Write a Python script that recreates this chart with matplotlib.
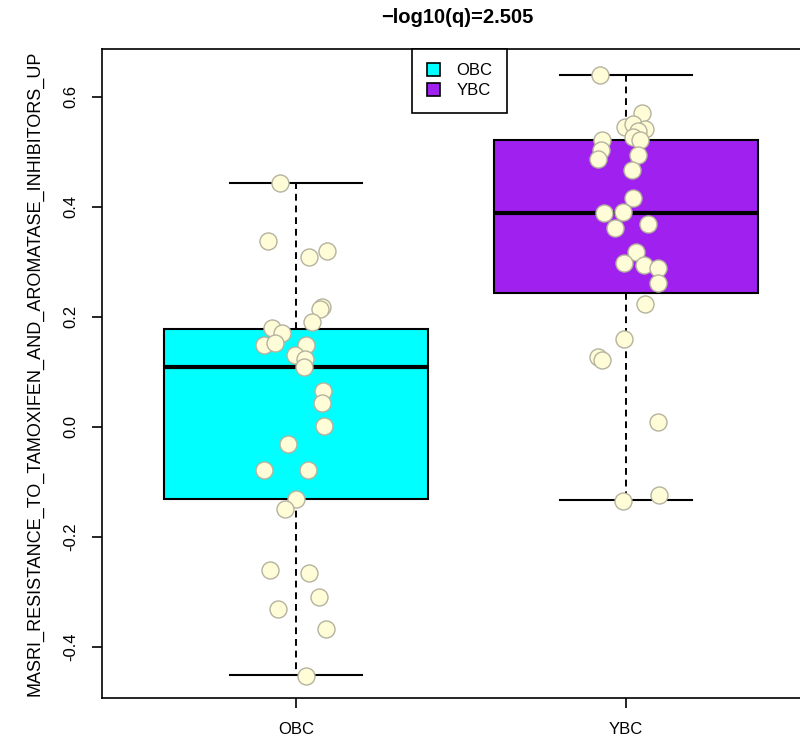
import numpy as np
import matplotlib
matplotlib.use("Agg")
from matplotlib import pyplot as plt
from matplotlib.patches import Patch

plt.rcParams['font.family'] = ['Liberation Sans', 'DejaVu Sans']

groups = ['OBC', 'YBC']
colors = ['#00FFFF', '#A020F0']
title = '\u2212log10(q)=2.505'
ylabel = 'MASRI_RESISTANCE_TO_TAMOXIFEN_AND_AROMATASE_INHIBITORS_UP'

# box statistics
med = [0.109, 0.389]
q1 = [-0.131, 0.244]
q3 = [0.178, 0.522]
whislo = [-0.451, -0.133]
whishi = [0.444, 0.640]

# points (jitter offset, value)
obc_jit = [-0.048, -0.085, 0.039, 0.094, 0.079, 0.073, 0.048, -0.073, -0.042, -0.097,
           -0.064, 0.030, -0.003, 0.027, 0.024, 0.082, 0.079, 0.085, -0.024, -0.097,
           0.036, 0.000, -0.033, -0.079, 0.039, 0.070, -0.055, 0.091, 0.030]
obc_val = [0.444, 0.338, 0.309, 0.320, 0.218, 0.215, 0.191, 0.180, 0.171, 0.149,
           0.153, 0.149, 0.131, 0.124, 0.109, 0.065, 0.044, 0.002, -0.031, -0.078,
           -0.078, -0.131, -0.149, -0.260, -0.265, -0.309, -0.331, -0.367, -0.453]
ybc_jit = [-0.079, 0.048, -0.003, 0.021, 0.058, 0.036, 0.021, 0.042, -0.073, -0.076,
           -0.085, 0.036, 0.018, 0.021, -0.067, -0.009, -0.033, 0.067, 0.030, -0.006,
           0.055, 0.097, 0.097, 0.058, -0.006, -0.085, -0.073, 0.097, 0.100, -0.009]
ybc_val = [0.640, 0.571, 0.545, 0.551, 0.542, 0.538, 0.527, 0.522, 0.522, 0.504,
           0.487, 0.495, 0.467, 0.416, 0.389, 0.391, 0.362, 0.369, 0.318, 0.298,
           0.295, 0.289, 0.262, 0.224, 0.160, 0.127, 0.122, 0.009, -0.124, -0.135]

fig = plt.figure(figsize=(8, 7.41), dpi=100)
ax = fig.add_axes([0.1275, 0.058, 0.894, 0.876])

stats = []
for i, g in enumerate(groups):
    stats.append(dict(label=g, med=med[i], q1=q1[i], q3=q3[i],
                      whislo=whislo[i], whishi=whishi[i], fliers=[]))

bp = ax.bxp(stats, positions=[1, 2], widths=0.8, capwidths=0.4,
            patch_artist=True, showfliers=False,
            boxprops=dict(edgecolor='black', linewidth=1.5),
            medianprops=dict(color='black', linewidth=3),
            whiskerprops=dict(color='black', linewidth=1.4, linestyle=(0, (3.5, 2.5))),
            capprops=dict(color='black', linewidth=1.5))
for patch, c in zip(bp['boxes'], colors):
    patch.set_facecolor(c)

ax.scatter(1 + np.array(obc_jit), obc_val, s=150, facecolor='#FFFDD8',
           edgecolor='#B5B29E', linewidth=1, zorder=5)
ax.scatter(2 + np.array(ybc_jit), ybc_val, s=150, facecolor='#FFFDD8',
           edgecolor='#B5B29E', linewidth=1, zorder=5)

ax.set_xlim(0.412, 2.58)
ax.set_ylim(-0.493, 0.687)
ax.set_yticks([-0.4, -0.2, 0.0, 0.2, 0.4, 0.6])
ax.set_yticklabels(['-0.4', '-0.2', '0.0', '0.2', '0.4', '0.6'], rotation=90, va='center')
ax.set_xticks([1, 2])
ax.set_xticklabels(groups)
ax.tick_params(labelsize=12, length=7, width=1.2, pad=10)
ax.tick_params(axis='y', pad=10)
for s in ax.spines.values():
    s.set_linewidth(1.2)

ax.set_ylabel(ylabel, fontsize=13, labelpad=14)
fig.text(0.572, 0.977, title, fontsize=14.5, fontweight='bold', ha='center', va='center')

handles = [Patch(facecolor=c, edgecolor='black', linewidth=1.2) for c in colors]
leg = ax.legend(handles, groups, loc='upper center', bbox_to_anchor=(0.5, 1.0),
                borderaxespad=0, fontsize=12, handlelength=0.8, handleheight=0.8,
                handletextpad=1.0, fancybox=False, edgecolor='black', framealpha=1,
                borderpad=0.85, labelspacing=0.3)
leg.get_frame().set_linewidth(1.2)

fig.savefig('out.png', dpi=100)
